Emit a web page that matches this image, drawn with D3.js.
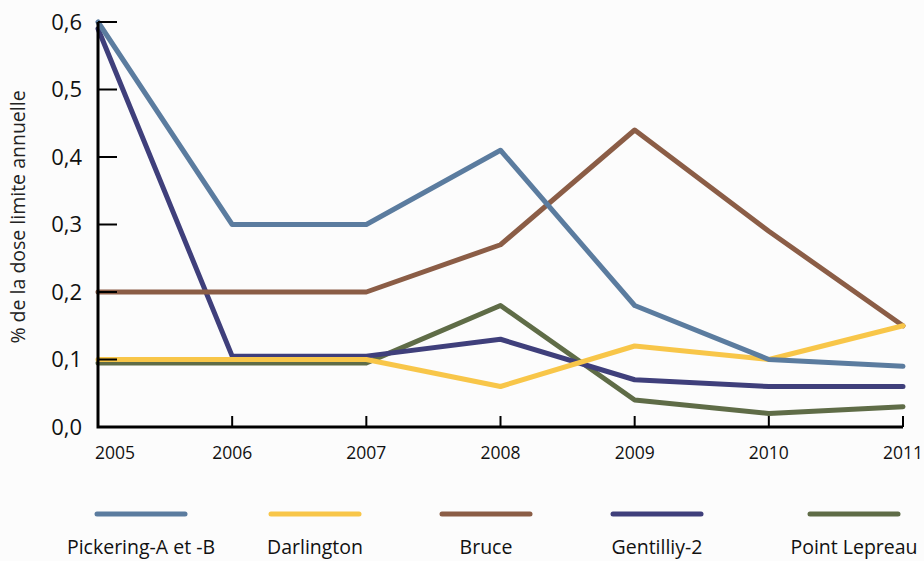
<!DOCTYPE html>
<html>
<head>
<meta charset="utf-8">
<script src="https://cdn.jsdelivr.net/npm/d3@7"></script>
<style>
  body { margin: 0; background: #fcfcfc; }
  svg { display: block; font-family: "Open Sans", "Noto Sans", sans-serif; }
</style>
</head>
<body>
<svg width="924" height="561"></svg>
<script>
// data
var years = [2005, 2006, 2007, 2008, 2009, 2010, 2011];
var stations = ['Pickering-A et -B', 'Darlington', 'Bruce', 'Gentilliy-2', 'Point Lepreau'];
var pickering = [0.6, 0.3, 0.3, 0.41, 0.18, 0.1, 0.09];
var darlington = [0.1, 0.1, 0.1, 0.06, 0.12, 0.1, 0.15];
var bruce = [0.2, 0.2, 0.2, 0.27, 0.44, 0.29, 0.15];
var gentilly = [0.59, 0.105, 0.105, 0.13, 0.07, 0.06, 0.06];
var lepreau = [0.095, 0.095, 0.095, 0.18, 0.04, 0.02, 0.03];
var yTicks = [0, 0.1, 0.2, 0.3, 0.4, 0.5, 0.6];

var colors = ['#5b7c9f', '#f8c649', '#8b5d46', '#3f3f7b', '#5f6c47'];
var seriesValues = [pickering, darlington, bruce, gentilly, lepreau];
// drawing order: last one on top
var drawOrder = [4, 3, 2, 1, 0];
// legend line starts (layout)
var legendX = [97, 271, 442, 613, 810];

var svg = d3.select('svg');

var x = d3.scalePoint()
  .domain(years)
  .range([98, 903]);

var y = d3.scaleLinear()
  .domain([0, 0.6])
  .range([427, 22]);

var fmt = function (d) { return d3.format('.1f')(d).replace('.', ','); };

// lines
var line = d3.line()
  .x(function (d, i) { return x(years[i]); })
  .y(function (d) { return y(d); });

svg.selectAll('path.serie')
  .data(drawOrder)
  .enter()
  .append('path')
  .attr('class', 'serie')
  .attr('d', function (k) { return line(seriesValues[k]); })
  .attr('fill', 'none')
  .attr('stroke', function (k) { return colors[k]; })
  .attr('stroke-width', 5)
  .attr('stroke-linejoin', 'round')
  .attr('stroke-linecap', 'round');

// y axis ticks (pointing inside)
svg.selectAll('line.ytick')
  .data(yTicks.slice(1))
  .enter()
  .append('line')
  .attr('x1', x(2005))
  .attr('x2', x(2005) + 19)
  .attr('y1', function (d) { return y(d); })
  .attr('y2', function (d) { return y(d); })
  .attr('stroke', '#000')
  .attr('stroke-width', 2);

svg.selectAll('text.ylab')
  .data(yTicks)
  .enter()
  .append('text')
  .attr('x', 82)
  .attr('y', function (d) { return y(d); })
  .attr('dy', '0.35em')
  .attr('text-anchor', 'end')
  .attr('font-size', 22)
  .attr('fill', '#111')
  .text(fmt);

// x axis ticks (pointing up)
svg.selectAll('line.xtick')
  .data(years.slice(1))
  .enter()
  .append('line')
  .attr('x1', function (d) { return x(d); })
  .attr('x2', function (d) { return x(d); })
  .attr('y1', y(0))
  .attr('y2', y(0) - 11)
  .attr('stroke', '#000')
  .attr('stroke-width', 2);

svg.selectAll('text.xlab')
  .data(years)
  .enter()
  .append('text')
  .attr('x', function (d, i) { return i === 0 ? x(d) - 3 : x(d); })
  .attr('y', 459)
  .attr('text-anchor', function (d, i) { return i === 0 ? 'start' : 'middle'; })
  .attr('font-size', 17.5)
  .attr('fill', '#111')
  .text(function (d) { return d; });

// axis frame
svg.append('path')
  .attr('d', 'M' + x(2005) + ',' + y(0.6) + 'V' + y(0) + 'H' + x(2011))
  .attr('fill', 'none')
  .attr('stroke', '#000')
  .attr('stroke-width', 3);

// y title
svg.append('text')
  .attr('transform', 'translate(25,217) rotate(-90)')
  .attr('text-anchor', 'middle')
  .attr('font-size', 19.5)
  .attr('fill', '#222')
  .text('% de la dose limite annuelle');

// legend
var legend = svg.selectAll('g.legend')
  .data(stations)
  .enter()
  .append('g')
  .attr('class', 'legend')
  .attr('transform', function (d, i) { return 'translate(' + legendX[i] + ',514)'; });

legend.append('line')
  .attr('x1', 0)
  .attr('x2', 88)
  .attr('stroke', function (d, i) { return colors[i]; })
  .attr('stroke-width', 5)
  .attr('stroke-linecap', 'round');

legend.append('text')
  .attr('x', 44)
  .attr('y', 40)
  .attr('text-anchor', 'middle')
  .attr('font-size', 19.5)
  .attr('fill', '#111')
  .text(function (d) { return d; });
</script>
</body>
</html>
